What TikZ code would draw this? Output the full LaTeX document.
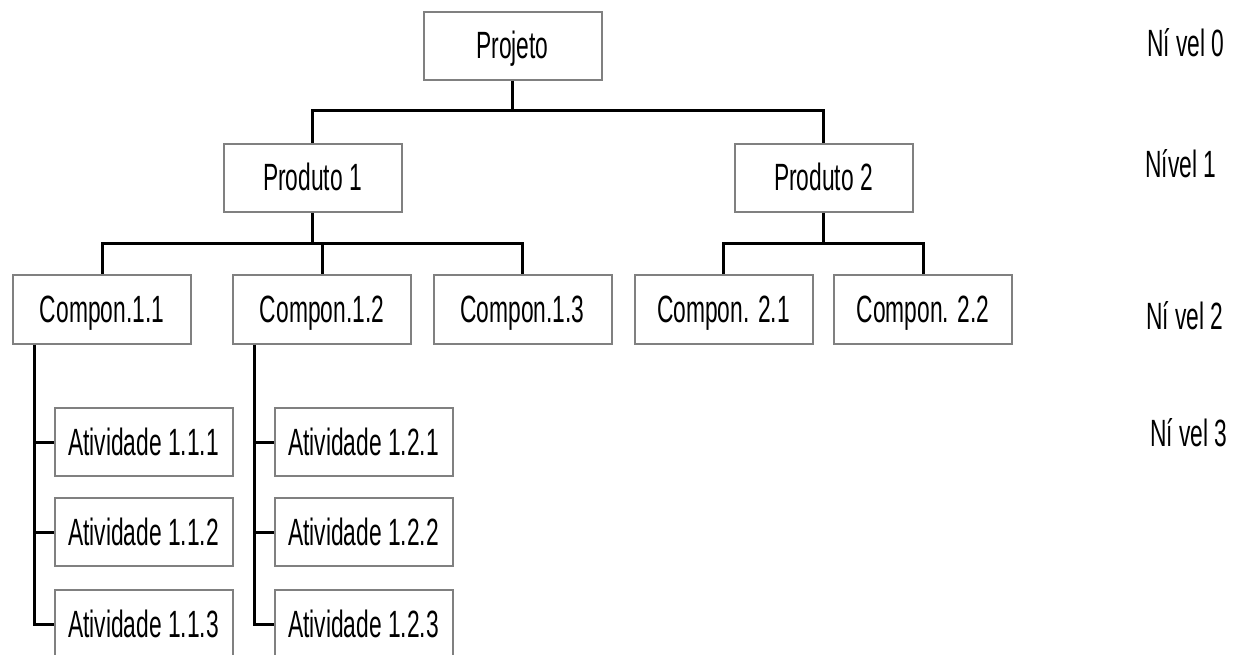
\documentclass[tikz,border=0pt]{standalone}
\usepackage{fontspec}
\setmainfont[FakeStretch=0.6]{Liberation Sans}
\usetikzlibrary{calc}
\definecolor{boxline}{RGB}{128,128,128}
\begin{document}
\begin{tikzpicture}[x=1pt,y=-1pt,
  wbox/.style={draw=boxline,line width=2pt,fill=white,rectangle,
    minimum width=178pt,minimum height=68pt,inner sep=0pt,
    text height=26pt,text depth=0pt,
    font=\fontsize{38}{42}\selectfont},
  conn/.style={draw=black,line width=3pt},
  lvl/.style={anchor=base,inner sep=0pt,font=\fontsize{38}{42}\selectfont}]
\useasboundingbox (0,0) rectangle (1240,655);
\clip (0,0) rectangle (1240,655);

% level 0
\node[wbox] (proj) at (512.5,46) {Projeto};
% level 1
\node[wbox] (p1) at (312.5,178) {Produto 1};
\node[wbox] (p2) at (823.5,178) {Produto 2};
% level 2
\node[wbox] (c11) at (102,309.5) {Compon.1.1};
\node[wbox] (c12) at (322,309.5) {Compon.1.2};
\node[wbox] (c13) at (522.5,309.5) {Compon.1.3};
\node[wbox] (c21) at (723.5,309.5) {Compon. 2.1};
\node[wbox] (c22) at (923,309.5) {Compon. 2.2};
% level 3
\node[wbox] (a111) at (143.5,442) {Atividade 1.1.1};
\node[wbox] (a112) at (143.5,532) {Atividade 1.1.2};
\node[wbox] (a113) at (143.5,624) {Atividade 1.1.3};
\node[wbox] (a121) at (363.5,442) {Atividade 1.2.1};
\node[wbox] (a122) at (363.5,532) {Atividade 1.2.2};
\node[wbox] (a123) at (363.5,624) {Atividade 1.2.3};

% level captions
\node[lvl] (n0) at (1186,57) {Ní vel 0};
\node[lvl] (n1) at (1181,178) {Nível 1};
\node[lvl] (n2) at (1185,329) {Ní vel 2};
\node[lvl] (n3) at (1189,446) {Ní vel 3};

% horizontal bars
\coordinate (bar0) at (0,111);
\coordinate (bar1) at (0,244);

% Projeto -> Produtos
\draw[conn] (proj.south) -- (proj.south |- bar0) -| (p1.north);
\draw[conn] (proj.south |- bar0) -| (p2.north);
% Produto 1 -> componentes
\draw[conn] (p1.south) -- (p1.south |- bar1) -| (c11.north);
\draw[conn] (p1.south |- bar1) -| (c12.north);
\draw[conn] (p1.south |- bar1) -| (c13.north);
% Produto 2 -> componentes
\draw[conn] (p2.south) -- (p2.south |- bar1) -| (c21.north);
\draw[conn] (p2.south |- bar1) -| (c22.north);

% activity spines
\coordinate (s1) at ($(c11.south west)+(22,0)$);
\coordinate (s2) at ($(c12.south west)+(22,0)$);
\draw[conn] (s1) |- (a113.west);
\draw[conn] (s1 |- a111.west) -- (a111.west);
\draw[conn] (s1 |- a112.west) -- (a112.west);
\draw[conn] (s2) |- (a123.west);
\draw[conn] (s2 |- a121.west) -- (a121.west);
\draw[conn] (s2 |- a122.west) -- (a122.west);
\end{tikzpicture}
\end{document}
